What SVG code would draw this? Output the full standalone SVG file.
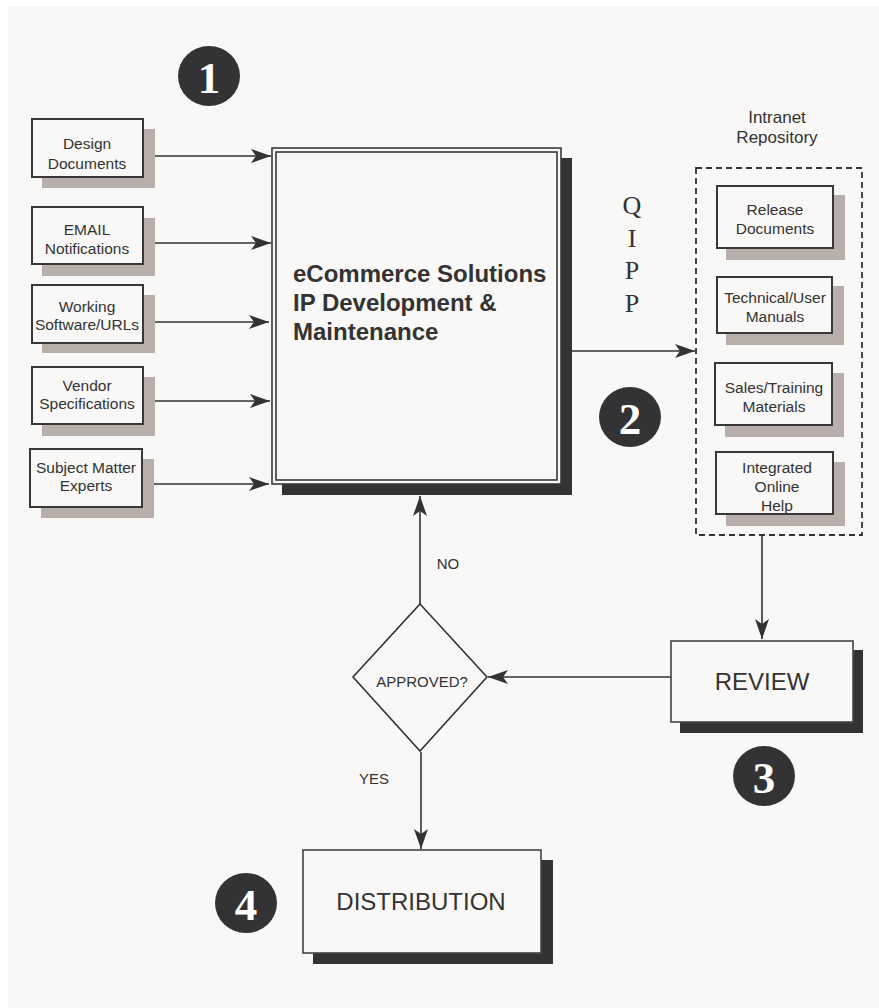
<svg xmlns="http://www.w3.org/2000/svg" width="879" height="1008" viewBox="0 0 879 1008">
<style>
.t{font-family:"Liberation Sans",Arial,sans-serif;fill:#333;text-anchor:middle}
.s{font-size:15.5px}
.box{fill:#f9f8f6;stroke:#383838;stroke-width:2}
.sh{fill:#b9afaa}
.dk{fill:#333336}
.ln{stroke:#333;stroke-width:1.6;fill:none}
.num{font-family:"Liberation Serif","Times New Roman",serif;font-weight:bold;font-size:45px;fill:#fff;text-anchor:middle}
.q{font-family:"Liberation Serif","Times New Roman",serif;font-size:26px;fill:#333;text-anchor:middle}
</style>
<defs>
<marker id="ah" markerUnits="userSpaceOnUse" markerWidth="20" markerHeight="14" viewBox="0 0 20 14" refX="20" refY="7" orient="auto" overflow="visible">
<path d="M0,0 L20,7 L0,14 L5,7 Z" fill="#333"/>
</marker>
</defs>
<rect x="8" y="7" width="871" height="1001" fill="#f9f8f6"/>

<g id="badge1"><ellipse cx="209" cy="76" rx="31" ry="30" class="dk"/><text x="209" y="93" class="num">1</text></g>
<g id="badge2"><ellipse cx="630" cy="417" rx="31" ry="30" class="dk"/><text x="630" y="434" class="num">2</text></g>
<g id="badge3"><ellipse cx="764" cy="776" rx="31" ry="30" class="dk"/><text x="764" y="793" class="num">3</text></g>
<g id="badge4"><ellipse cx="246" cy="903" rx="31" ry="30" class="dk"/><text x="246" y="920" class="num">4</text></g>

<g id="design-docs"><rect x="42" y="129" width="113" height="59" class="sh"/><rect x="32" y="119" width="111" height="58" class="box"/>
<text class="t s" x="87" y="149">Design</text><text class="t s" x="87" y="169">Documents</text></g>
<g id="email"><rect x="42" y="218" width="113" height="58" class="sh"/><rect x="32" y="207" width="111" height="57" class="box"/>
<text class="t s" x="87" y="235">EMAIL</text><text class="t s" x="87" y="254">Notifications</text></g>
<g id="working-software"><rect x="42" y="295" width="113" height="58" class="sh"/><rect x="32" y="285" width="111" height="58" class="box"/>
<text class="t s" x="87" y="312">Working</text><text class="t s" x="87" y="330">Software/URLs</text></g>
<g id="vendor-specs"><rect x="42" y="377" width="113" height="59" class="sh"/><rect x="32" y="367" width="111" height="57" class="box"/>
<text class="t s" x="87" y="391">Vendor</text><text class="t s" x="87" y="409">Specifications</text></g>
<g id="sme"><rect x="41" y="459" width="113" height="59" class="sh"/><rect x="30" y="449" width="112" height="58" class="box"/>
<text class="t s" x="86" y="473">Subject Matter</text><text class="t s" x="86" y="491">Experts</text></g>

<g id="main">
<rect x="282" y="158" width="290" height="337" class="dk"/>
<rect x="272" y="148" width="289" height="336" fill="#f9f8f6" stroke="#383838" stroke-width="1.6"/>
<rect x="276" y="152" width="281" height="328" fill="none" stroke="#383838" stroke-width="1.6"/>
<text x="293" y="282" style="font-family:'Liberation Sans',Arial,sans-serif;font-weight:bold;font-size:24px;fill:#333">eCommerce Solutions</text>
<text x="293" y="311" style="font-family:'Liberation Sans',Arial,sans-serif;font-weight:bold;font-size:24px;fill:#333">IP Development &amp;</text>
<text x="293" y="340" style="font-family:'Liberation Sans',Arial,sans-serif;font-weight:bold;font-size:24px;fill:#333">Maintenance</text>
</g>

<g id="qipp">
<text class="q" x="632" y="214">Q</text>
<text class="q" x="632" y="247">I</text>
<text class="q" x="632" y="279">P</text>
<text class="q" x="632" y="312">P</text>
</g>

<g id="repository">
<text class="t" x="777" y="123" style="font-size:17px">Intranet</text>
<text class="t" x="777" y="143" style="font-size:17px">Repository</text>
<rect x="696" y="168" width="166" height="367" fill="none" stroke="#333" stroke-width="1.8" stroke-dasharray="6 4"/>
</g>
<g id="release-docs"><rect x="726" y="195" width="119" height="65" class="sh"/><rect x="717" y="186" width="116" height="62" class="box"/>
<text class="t s" x="775" y="215">Release</text><text class="t s" x="775" y="234">Documents</text></g>
<g id="manuals"><rect x="726" y="286" width="118" height="59" class="sh"/><rect x="717" y="277" width="115" height="56" class="box"/>
<text class="t s" x="775" y="303">Technical/User</text><text class="t s" x="775" y="322">Manuals</text></g>
<g id="sales-training"><rect x="725" y="373" width="119" height="64" class="sh"/><rect x="715" y="363" width="117" height="62" class="box"/>
<text class="t s" x="774" y="393">Sales/Training</text><text class="t s" x="774" y="412">Materials</text></g>
<g id="online-help"><rect x="726" y="462" width="119" height="64" class="sh"/><rect x="716" y="452" width="117" height="62" class="box"/>
<text class="t s" x="777" y="473">Integrated</text><text class="t s" x="777" y="492">Online</text><text class="t s" x="777" y="511">Help</text></g>

<g id="review">
<rect x="680" y="650" width="183" height="83" class="dk"/>
<rect x="671" y="641" width="182" height="81" fill="#f9f8f6" stroke="#444" stroke-width="1.6"/>
<text class="t" x="762" y="690" style="font-size:24px">REVIEW</text>
</g>

<g id="approved">
<polygon points="420,604 487,677 420,751 353,677" fill="#f9f8f6" stroke="#333" stroke-width="1.6"/>
<text class="t" x="422" y="687" style="font-size:15px">APPROVED?</text>
</g>

<g id="distribution">
<rect x="313" y="860" width="240" height="104" class="dk"/>
<rect x="303" y="850" width="238" height="103" fill="#f9f8f6" stroke="#444" stroke-width="1.6"/>
<text class="t" x="421" y="910" style="font-size:24px">DISTRIBUTION</text>
</g>

<g id="connectors">
<line class="ln" x1="155" y1="156" x2="271" y2="156" marker-end="url(#ah)"/>
<line class="ln" x1="155" y1="243" x2="271" y2="243" marker-end="url(#ah)"/>
<line class="ln" x1="155" y1="322" x2="269" y2="322" marker-end="url(#ah)"/>
<line class="ln" x1="155" y1="401" x2="270" y2="401" marker-end="url(#ah)"/>
<line class="ln" x1="154" y1="484" x2="269" y2="484" marker-end="url(#ah)"/>
<line class="ln" x1="572" y1="351" x2="695" y2="351" marker-end="url(#ah)"/>
<line class="ln" x1="762" y1="535" x2="762" y2="639" marker-end="url(#ah)"/>
<line class="ln" x1="671" y1="677" x2="488" y2="677" marker-end="url(#ah)"/>
<line class="ln" x1="420" y1="604" x2="420" y2="496" marker-end="url(#ah)"/>
<line class="ln" x1="421" y1="752" x2="421" y2="849" marker-end="url(#ah)"/>
<text class="t" x="448" y="569" style="font-size:15px">NO</text>
<text class="t" x="374" y="784" style="font-size:15px">YES</text>
</g>
</svg>
